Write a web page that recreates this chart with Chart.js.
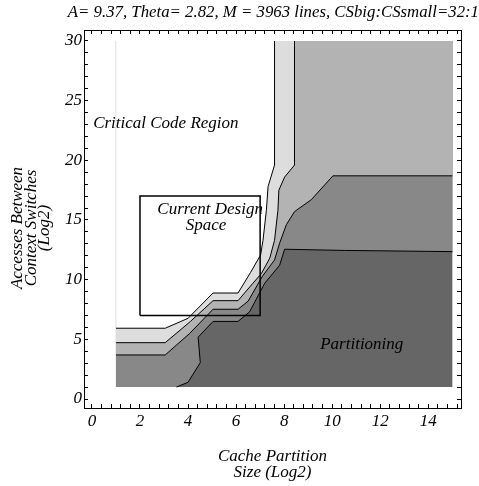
<!DOCTYPE html>
<html>
<head>
<meta charset="utf-8">
<script src="https://cdn.jsdelivr.net/npm/chart.js@4.4.1/dist/chart.umd.min.js"></script>
<style>
  html, body { margin: 0; padding: 0; background: #fff; }
</style>
</head>
<body>
<canvas id="contourChart" width="479" height="486"></canvas>
<script>
// contour lines (x = log2 partition size, y = log2 accesses)
const line1X = [1, 3.05, 4.0, 5.04, 6.08, 6.6, 7.02, 7.12, 7.26, 7.33, 7.6, 7.6];
const line1Y = [5.93, 5.93, 6.76, 8.88, 8.88, 10.6, 12.07, 13.3, 15.8, 17.8, 19.6, 30];

const line2X = [1, 3.05, 4.1, 5.04, 6.08, 6.7, 7.05, 7.4, 7.6, 7.74, 7.78, 8.02, 8.43, 8.43];
const line2Y = [4.72, 4.72, 6.5, 8.24, 8.24, 9.7, 10.5, 11.8, 13.3, 15.8, 17.5, 18.6, 19.6, 30];

const line3X = [1, 3.05, 4.07, 5.04, 6.08, 6.5, 7.1, 7.6, 7.81, 8.09, 8.43, 9.13, 10.03, 15];
const line3Y = [3.69, 3.69, 5.5, 7.52, 7.52, 8.2, 10.3, 11.65, 13.05, 14.6, 15.7, 16.7, 18.7, 18.7];

const line4X = [3.52, 4.0, 4.51, 4.42, 5.04, 6.08, 6.56, 7.19, 7.81, 8.02, 10.5, 15];
const line4Y = [1, 1.4, 3.05, 5.18, 6.5, 6.5, 7.3, 9.7, 11.2, 12.55, 12.45, 12.35];

// plotted domain and the design space box
const domainX = [1, 15];
const domainY = [1, 30];
const boxX = [2, 7];
const boxY = [7, 17];

const xTickLabels = [0, 2, 4, 6, 8, 10, 12, 14];
const yTickLabels = [0, 5, 10, 15, 20, 25, 30];
const yTitleLines = ['Accesses Between', 'Context Switches', '(Log2)'];

const notes = [
  { text: 'Critical Code Region', x: 0.05, y: 23.05, align: 'left' },
  { text: 'Current Design', x: 4.92, y: 15.84, align: 'center' },
  { text: 'Space', x: 4.75, y: 14.5, align: 'center' },
  { text: 'Partitioning', x: 11.23, y: 4.53, align: 'center' },
];

const serif = '"Liberation Serif", "Times New Roman", serif';

function pts(xs, ys) {
  return xs.map((x, i) => ({ x: x, y: ys[i] }));
}

const L = domainX[0], R = domainX[1], B = domainY[0], T = domainY[1];

// each region is the part of the domain above/left of a contour
function region(data, color, order) {
  return {
    data: data, showLine: true, fill: 'shape', backgroundColor: color,
    borderColor: 'rgba(0,0,0,0)', borderWidth: 0, pointRadius: 0, order: order
  };
}
function contour(data, order) {
  return {
    data: data, showLine: true, fill: false, borderColor: '#000', borderWidth: 1,
    pointRadius: 0, order: order
  };
}

const datasets = [
  region([{x: L, y: T}, {x: L, y: B}, {x: R, y: B}, {x: R, y: T}], '#666666', 50),
  region([{x: L, y: T}, {x: L, y: B}].concat(pts(line4X, line4Y), [{x: R, y: T}]), '#888888', 40),
  region([{x: L, y: T}].concat(pts(line3X, line3Y), [{x: R, y: T}]), '#b3b3b3', 30),
  region([{x: L, y: T}].concat(pts(line2X, line2Y)), '#dddddd', 20),
  region([{x: L, y: T}].concat(pts(line1X, line1Y)), '#ffffff', 15),
  { data: [{x: L, y: line1Y[0]}, {x: L, y: T}], showLine: true, borderColor: '#e6e6e6',
    borderWidth: 1, pointRadius: 0, order: 12 },
  contour(pts(line1X, line1Y), 5),
  contour(pts(line2X, line2Y), 5),
  contour(pts(line3X, line3Y), 5),
  contour(pts(line4X, line4Y), 5),
  { data: [{x: boxX[0], y: boxY[0]}, {x: boxX[0], y: boxY[1]}, {x: boxX[1], y: boxY[1]},
           {x: boxX[1], y: boxY[0]}, {x: boxX[0], y: boxY[0]}],
    showLine: true, borderColor: '#000', borderWidth: 1.5, pointRadius: 0, order: 1 },
];

// text written inside the plot, plus the y axis title (sits a bit below centre)
const notesPlugin = {
  id: 'notes',
  afterDatasetsDraw(chart) {
    const { ctx, scales, chartArea } = chart;
    ctx.save();
    ctx.fillStyle = '#000';
    ctx.font = 'italic 17px ' + serif;
    ctx.textBaseline = 'middle';
    notes.forEach(n => {
      ctx.textAlign = n.align;
      ctx.fillText(n.text, scales.x.getPixelForValue(n.x), scales.y.getPixelForValue(n.y));
    });
    ctx.translate(18, (chartArea.top + chartArea.bottom) / 2 + 9);
    ctx.rotate(-Math.PI / 2);
    ctx.textAlign = 'center';
    yTitleLines.forEach((t, i) => ctx.fillText(t, 0, i * 13.5));
    ctx.restore();
  }
};

function pick(list, v) {
  const hit = list.find(t => Math.abs(t - v) < 1e-6);
  return hit === undefined ? '' : String(hit);
}

const tickFont = { family: serif, size: 17, style: 'italic' };
const frameGrid = { drawOnChartArea: false, tickLength: -4, color: '#000', tickColor: '#000', tickWidth: 1 };
const frameBorder = { color: '#000', width: 1 };

const config = {
  type: 'scatter',
  data: { datasets: datasets },
  options: {
    responsive: false,
    animation: false,
    events: [],
    layout: { padding: 0 },
    plugins: {
      legend: { display: false },
      tooltip: { enabled: false },
      title: {
        display: true, fullSize: true, align: 'end',
        text: 'A= 9.37, Theta= 2.82, M = 3963 lines, CSbig:CSsmall=32:1',
        color: '#000', font: { family: serif, size: 16.8, style: 'italic', weight: 'normal', lineHeight: '20px' },
        padding: { top: 3, bottom: 0 }
      }
    },
    scales: {
      x: {
        type: 'linear', position: 'bottom', min: -0.33, max: 15.36,
        afterFit: s => { s.height = 78; },
        border: frameBorder, grid: frameGrid,
        ticks: { stepSize: 0.4, includeBounds: false, autoSkip: false, maxRotation: 0,
                 padding: 7, color: '#000', font: tickFont, callback: v => pick(xTickLabels, v) },
        title: { display: true, text: ['Cache Partition', 'Size (Log2)'], color: '#000',
                 font: { family: serif, size: 17, style: 'italic', lineHeight: '16px' },
                 padding: { top: 0, bottom: 5 } }
      },
      x2: {
        type: 'linear', position: 'top', min: -0.33, max: 15.36,
        afterFit: s => { s.height = 7; },
        border: frameBorder, grid: frameGrid,
        ticks: { stepSize: 0.4, includeBounds: false, autoSkip: false, display: false }
      },
      y: {
        type: 'linear', position: 'left', min: -0.754, max: 30.92,
        afterFit: s => { s.width = 84; },
        border: frameBorder, grid: frameGrid,
        ticks: { stepSize: 1, includeBounds: false, autoSkip: false, padding: 6,
                 color: '#000', font: tickFont, callback: v => pick(yTickLabels, v) }
      },
      y2: {
        type: 'linear', position: 'right', min: -0.754, max: 30.92,
        afterFit: s => { s.width = 18; },
        border: frameBorder, grid: frameGrid,
        ticks: { stepSize: 1, includeBounds: false, autoSkip: false, display: false }
      }
    }
  },
  plugins: [notesPlugin]
};

const contourChart = new Chart(document.getElementById('contourChart'), config);
</script>
</body>
</html>
